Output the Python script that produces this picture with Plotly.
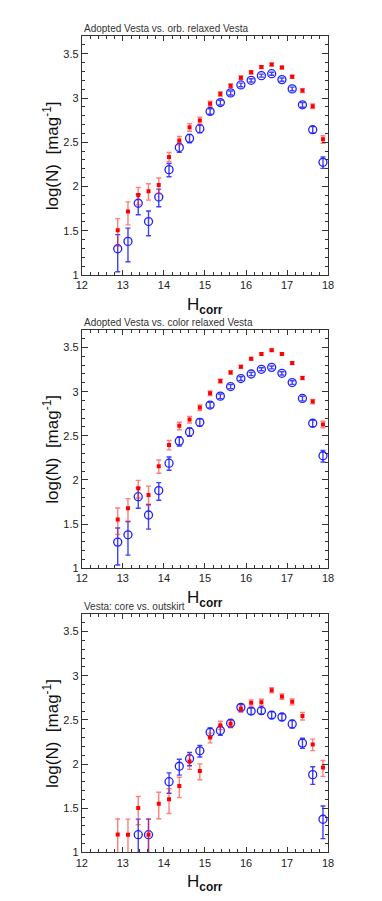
import plotly.graph_objects as go

W, HGT = 382, 901

H_bins = [12.875, 13.125, 13.375, 13.625, 13.875, 14.125, 14.375, 14.625, 14.875, 15.125,
          15.375, 15.625, 15.875, 16.125, 16.375, 16.625, 16.875, 17.125, 17.375, 17.625, 17.875]

panel_titles = ["Adopted Vesta vs. orb. relaxed Vesta",
                "Adopted Vesta vs. color relaxed Vesta",
                "Vesta: core vs. outskirt"]

# Adopted Vesta (blue, panels 1 & 2)
adopted = [1.296, 1.379, 1.81, 1.603, 1.88, 2.19, 2.44, 2.544, 2.653, 2.848, 2.949, 3.058,
           3.148, 3.20, 3.253, 3.275, 3.208, 3.103, 2.923, 2.642, 2.274]
adopted_ep = [0.16, 0.15, 0.10, 0.12, 0.09, 0.07, 0.05, 0.045, 0.04, 0.03, 0.025, 0.022,
              0.02, 0.018, 0.017, 0.016, 0.018, 0.02, 0.025, 0.035, 0.06]
adopted_em = [0.26, 0.23, 0.13, 0.16, 0.11, 0.08, 0.055, 0.05, 0.045, 0.032, 0.028, 0.024,
              0.021, 0.019, 0.017, 0.017, 0.019, 0.021, 0.027, 0.038, 0.07]

# Orbit relaxed Vesta (red, panel 1)
orb = [1.506, 1.716, 1.903, 1.945, 2.016, 2.334, 2.52, 2.67, 2.747, 2.934, 3.046, 3.14,
       3.23, 3.29, 3.35, 3.38, 3.346, 3.24, 3.084, 2.908, 2.533]
orb_ep = [0.13, 0.11, 0.085, 0.085, 0.08, 0.05, 0.045, 0.04, 0.035, 0.03, 0.025, 0.02,
          0.02, 0.018, 0.015, 0.015, 0.015, 0.018, 0.02, 0.025, 0.04]
orb_em = [0.18, 0.15, 0.11, 0.10, 0.095, 0.055, 0.05, 0.045, 0.04, 0.03, 0.027, 0.022,
          0.02, 0.018, 0.016, 0.015, 0.016, 0.018, 0.022, 0.027, 0.045]

# Color relaxed Vesta (red, panel 2)
col = [1.552, 1.679, 1.905, 1.83, 2.156, 2.396, 2.614, 2.685, 2.82, 2.982, 3.12, 3.218,
       3.282, 3.372, 3.425, 3.47, 3.425, 3.324, 3.155, 2.888, 2.629]
col_ep = [0.13, 0.11, 0.09, 0.10, 0.07, 0.05, 0.04, 0.035, 0.03, 0.025, 0.02, 0.018,
          0.016, 0.015, 0.014, 0.013, 0.014, 0.015, 0.018, 0.025, 0.035]
col_em = [0.17, 0.15, 0.11, 0.12, 0.08, 0.055, 0.045, 0.04, 0.033, 0.027, 0.022, 0.019,
          0.017, 0.015, 0.014, 0.013, 0.014, 0.016, 0.019, 0.027, 0.038]

# Core (blue, panel 3)
core = [None, None, 1.20, 1.20, None, 1.80, 1.975, 2.06, 2.15, 2.36, 2.38, 2.462,
        2.642, 2.60, 2.604, 2.555, 2.533, 2.454, 2.237, 1.88, 1.375]
core_ep = [0, 0, 0.176, 0.176, 0, 0.10, 0.08, 0.07, 0.06, 0.05, 0.05, 0.04,
           0.035, 0.035, 0.035, 0.037, 0.037, 0.04, 0.055, 0.09, 0.15]
core_em = [0, 0, 0.30, 0.30, 0, 0.13, 0.10, 0.08, 0.07, 0.055, 0.055, 0.045,
           0.038, 0.038, 0.038, 0.04, 0.04, 0.045, 0.06, 0.11, 0.22]

# Outskirt (red, panel 3)
outskirt = [1.202, 1.20, 1.502, 1.20, 1.551, 1.60, 1.75, 2.03, 1.922, 2.30, 2.44, 2.455,
            2.623, 2.694, 2.70, 2.836, 2.765, 2.705, 2.544, 2.222, 1.96]
outskirt_ep = [0.176, 0.176, 0.13, 0.176, 0.13, 0.12, 0.10, 0.07, 0.08, 0.05, 0.045, 0.04,
               0.035, 0.033, 0.033, 0.028, 0.03, 0.032, 0.04, 0.06, 0.08]
outskirt_em = [0.30, 0.30, 0.19, 0.30, 0.17, 0.16, 0.13, 0.09, 0.10, 0.06, 0.05, 0.045,
               0.038, 0.035, 0.035, 0.03, 0.032, 0.035, 0.045, 0.07, 0.10]

x_ticks = [12, 13, 14, 15, 16, 17, 18]
y_ticks = [1, 1.5, 2, 2.5, 3, 3.5]
y_ticklabels = ["1", "1.5", "2", "2.5", "3", "3.5"]

panels = [
    (adopted, adopted_ep, adopted_em, orb, orb_ep, orb_em),
    (adopted, adopted_ep, adopted_em, col, col_ep, col_em),
    (core, core_ep, core_em, outskirt, outskirt_ep, outskirt_em),
]

# pixel geometry (top, bottom) of each plot frame
frames = [(28.3, 268.7), (324.0, 564.0), (610.0, 850.0)]
x_left, x_right = 70.0, 324.3

BLUE = "#1f1fff"
RED = "#ff0000"
FONT = "Liberation Sans, Arial, sans-serif"

fig = go.Figure()
layout = dict(
    width=W, height=HGT, margin=dict(l=0, r=0, t=0, b=0),
    paper_bgcolor="white", plot_bgcolor="white", showlegend=False,
    font=dict(family=FONT, color="#222"),
)
annotations = []

for i, (bv, bep, bem, rv, rep, rem) in enumerate(panels):
    n = "" if i == 0 else str(i + 1)
    xa, ya = "x" + n, "y" + n
    top, bot = frames[i]
    fig.add_trace(go.Scatter(
        x=H_bins, y=bv, mode="markers", xaxis=xa, yaxis=ya,
        marker=dict(symbol="circle-open", size=8, color=BLUE, line=dict(width=1.3, color=BLUE)),
        error_y=dict(type="data", array=bep, arrayminus=bem, symmetric=False,
                     color="rgba(30,30,255,0.85)", thickness=1.4, width=2.5),
    ))
    fig.add_trace(go.Scatter(
        x=H_bins, y=rv, mode="markers", xaxis=xa, yaxis=ya,
        marker=dict(symbol="square", size=4, color=RED),
        error_y=dict(type="data", array=rep, arrayminus=rem, symmetric=False,
                     color="rgba(255,40,40,0.6)", thickness=1.4, width=2.5),
    ))
    common = dict(showline=True, linecolor="#333", linewidth=1, mirror="allticks",
                  ticks="inside", tickcolor="#333", showgrid=False, zeroline=False,
                  tickfont=dict(size=11, color="#222", family=FONT))
    layout["xaxis" + n] = dict(
        domain=[x_left / W, x_right / W], anchor=ya, range=[12, 18],
        tickvals=x_ticks, ticktext=[str(v) for v in x_ticks], ticklen=5,
        minor=dict(dtick=0.2, tick0=12, ticks="inside", ticklen=3, tickcolor="#333"),
        **common)
    layout["yaxis" + n] = dict(
        domain=[1 - bot / HGT, 1 - top / HGT], anchor=xa, range=[1, 3.7],
        tickvals=y_ticks, ticktext=y_ticklabels, ticklen=6,
        minor=dict(dtick=0.1, tick0=1, ticks="inside", ticklen=3, tickcolor="#333"),
        **common)
    annotations.append(dict(
        text=panel_titles[i], xref="paper", yref="paper", x=x_left / W,
        y=1 - (top - 7.5) / HGT, xanchor="left", yanchor="middle", showarrow=False,
        font=dict(size=10, color="#333", family=FONT)))
    annotations.append(dict(
        text="log(N)  [mag<sup>-1</sup>]", xref="paper", yref="paper", x=38 / W,
        y=1 - ((top + bot) / 2) / HGT, xanchor="center", yanchor="middle",
        textangle=-90, showarrow=False,
        font=dict(size=17, color="#111", family=FONT)))
    annotations.append(dict(
        text="H<sub><b>corr</b></sub>", xref="paper", yref="paper", x=(x_left + x_right) / 2 / W,
        y=1 - (bot + 31) / HGT, xanchor="center", yanchor="middle", showarrow=False,
        font=dict(size=17, color="#111", family=FONT)))

layout["annotations"] = annotations
fig.update_layout(**layout)
fig.write_html("out.html")
